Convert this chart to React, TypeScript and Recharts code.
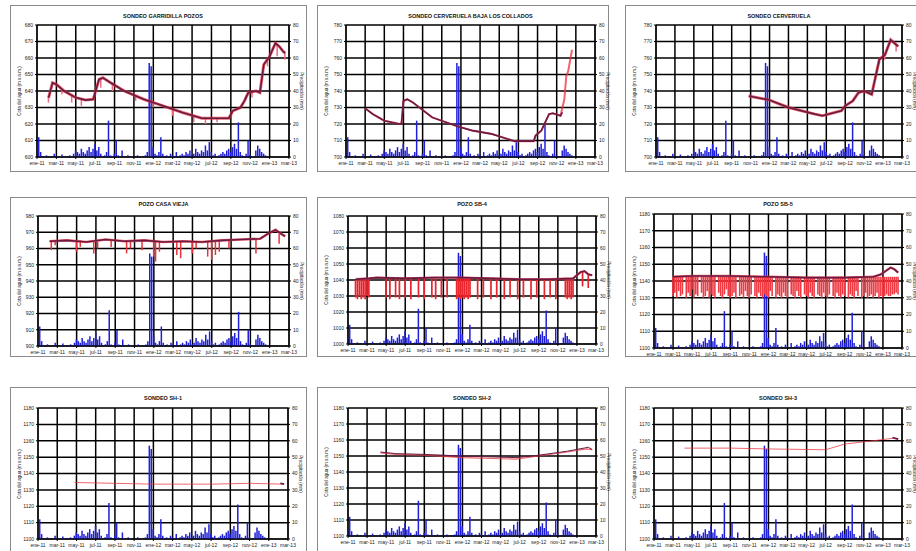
import React from 'react';
import { ComposedChart, Bar, Line, XAxis, YAxis, CartesianGrid } from 'recharts';

// etiquetas del eje X (cada 10 unidades)
const etiquetasX = ['ene-11', 'mar-11', 'may-11', 'jul-11', 'sep-11', 'nov-11', 'ene-12', 'mar-12', 'may-12', 'jul-12', 'sep-12', 'nov-12', 'ene-13', 'mar-13'];
const ticksX = etiquetasX.map((_, i) => i * 10);
const ticksLluvia = [0, 10, 20, 30, 40, 50, 60, 70, 80];

// precipitación (mm), misma estación para todos los gráficos
const lluvia = [
  4, 12, 3, 0.5, 0, 1, 0, 0.5, 0, 2,
  0.5, 0, 0, 1.5, 0, 0.5, 0, 1, 0, 2,
  4, 3, 2, 5, 3, 2, 4, 6, 3, 5,
  8, 4, 6, 2, 0, 1, 3, 22, 1, 0,
  2, 10, 1, 0, 4, 0.5, 0, 1, 0, 0,
  0.5, 0, 1, 0, 0, 0.5, 1, 3, 57, 55,
  6, 2, 1, 3, 12, 2, 0.5, 1, 0, 2,
  1, 0.5, 3, 0, 1, 2, 1, 3, 2, 4,
  1, 2, 5, 3, 2, 4, 3, 7, 4, 9,
  3, 1, 2, 0.5, 1, 2, 3, 2, 4, 5,
  3, 6, 8, 5, 21, 3, 1, 0.5, 2, 10,
  1, 0, 0.5, 4, 7, 5, 3, 2, 1, 0,
];

type Punto = [number, number];
type Tramo = [number, number, number];

// SONDEO GARRIDILLA POZOS
const garridillaNivel: Punto[] = [
  [6, 636], [8, 645], [10, 644], [14, 640], [20, 636], [25, 634.5], [29, 635], [30, 639], [32, 647], [34, 648],
  [38, 645], [45, 640], [55, 635], [65, 631], [75, 627], [85, 623.5], [99, 623.5], [101, 628], [105, 630], [107, 634],
  [109, 639], [113, 640], [115, 639], [117, 656], [120, 661], [123, 669], [125, 667], [127, 664], [128, 663],
];
const garridillaRango: Tramo[] = [
  [6, 633, 637], [13, 638, 641], [18, 633, 637], [23, 631, 635], [33, 642, 647], [39, 640, 645], [51, 634, 637],
  [60, 630, 634], [70, 625, 629], [81, 621, 625], [87, 620, 624], [93, 621, 623.5], [108, 635, 637], [111, 636, 640],
  [119, 655, 659], [124, 661, 668], [128, 659, 663],
];

// SONDEO CERVERUELA BAJA LOS COLLADOS
const cervBajaNivel: Punto[] = [
  [10, 729.5], [14, 726], [20, 722], [28, 720], [29, 720.5], [30, 734], [32, 735], [35, 733], [45, 724], [58, 718.7],
  [66, 716], [76, 714], [88, 709.6], [98, 709.6], [99, 713], [102, 716], [106, 726], [108, 726.5], [112, 725], [113, 727],
];
const cervBajaMedida: Punto[] = [
  [10, 729.5], [14, 726], [20, 722], [28, 720], [29, 720.5], [30, 734], [32, 735], [35, 733], [45, 724], [58, 718.7],
  [66, 716], [76, 714], [88, 709.6], [98, 709.6], [99, 713], [102, 716], [106, 726], [108, 726.5], [112, 725], [114, 735],
  [115, 749], [116, 752], [118, 765],
];

// SONDEO CERVERUELA
const cervNivel: Punto[] = [
  [49, 737], [60, 734.5], [70, 730], [84, 726], [88, 725], [98, 728], [100, 731], [104, 734], [107, 739], [110, 740],
  [114, 738], [118, 759], [121, 762], [124, 771], [128, 767],
];
const cervRango: Tramo[] = [[118, 756, 759], [121, 759, 762], [127, 764, 768]];

// POZO CASA VIEJA
const casaViejaNivel: Punto[] = [
  [6, 964.5], [15, 965], [25, 964], [35, 965.5], [45, 964.5], [55, 965], [65, 964], [75, 964.5], [85, 964], [95, 965],
  [105, 965.5], [115, 966], [119, 969], [123, 971.5], [126, 969], [128, 967.5],
];
const casaViejaRango: Tramo[] = [
  [7, 959, 965], [9, 962, 965], [20, 958, 965], [22, 961, 965], [29, 957, 964], [31, 960, 964], [38, 961, 965],
  [46, 957, 965], [48, 960, 965], [54, 959, 965], [60, 955, 964], [61, 952, 964], [63, 958, 964], [72, 956, 964],
  [74, 954, 964], [80, 957, 964], [82, 960, 964], [88, 955, 964], [90, 953, 964], [92, 956, 964], [94, 958, 965],
  [99, 960, 965], [113, 957, 966], [125, 963, 969],
];

// POZO SB-4
const sb4Nivel: Punto[] = [
  [4, 1040.5], [11, 1041], [15, 1041.5], [30, 1041], [45, 1041.5], [60, 1041.5], [75, 1041], [90, 1040.5], [105, 1040.5],
  [118, 1041], [122, 1045], [124, 1045.5], [126, 1043.5], [128, 1043],
];
const sb4Rango: Tramo[] = [
  [4, 1029, 1040], [5, 1028, 1040], [6, 1030, 1041], [7, 1028, 1041], [8, 1029, 1041], [9, 1028, 1041], [10, 1030, 1041],
  [11, 1029, 1041], [20, 1029, 1041], [22, 1028, 1041], [25, 1029, 1041], [27, 1028, 1041], [30, 1029, 1041],
  [33, 1028, 1041], [37, 1029, 1041], [40, 1028, 1041], [44, 1029, 1041], [46, 1028, 1041], [49, 1029, 1041],
  [52, 1029, 1041], [57, 1028, 1041], [58, 1029, 1041], [59, 1028, 1041], [60, 1029, 1041], [61, 1028, 1041],
  [62, 1029, 1041], [63, 1028, 1041], [64, 1029, 1041], [68, 1028, 1041], [71, 1029, 1041], [75, 1028, 1041],
  [78, 1029, 1041], [82, 1028, 1041], [85, 1029, 1040], [89, 1028, 1040], [92, 1029, 1040], [96, 1028, 1040],
  [99, 1029, 1040], [103, 1028, 1040], [106, 1029, 1040], [109, 1028, 1040], [114, 1029, 1041], [115, 1028, 1041],
  [116, 1029, 1041], [117, 1028, 1041], [118, 1029, 1041], [123, 1036, 1045], [126, 1035, 1043],
];

// POZO SB-5
const sb5Nivel: Punto[] = [
  [10, 1142.5], [20, 1143], [40, 1143], [60, 1142.5], [80, 1142], [100, 1142], [115, 1142.5], [119, 1144], [124, 1148],
  [126, 1147], [128, 1145],
];
const sb5Inicio = 10;
const sb5Tope = 1142.5;
const sb5Bajo: (number | null)[] = [
  1131, 1133, 1130, 1134, 1131, 1132, null, 1130, 1133, 1131,
  1135, 1130, 1132, 1131, null, 1133, 1130, 1131, 1134, 1130,
  1132, 1131, 1130, null, 1133, 1131, 1130, 1132, 1135, 1131,
  1130, 1131, 1133, 1130, null, 1131, 1132, 1130, 1134, 1131,
  1130, 1132, null, 1131, 1130, 1133, 1131, 1130, 1132, 1131,
  1130, 1134, 1131, null, 1130, 1132, 1131, 1130, 1133, 1131,
  1130, null, 1132, 1131, 1130, 1134, 1131, 1130, null, 1132,
  1131, 1130, 1133, 1131, 1130, null, 1132, 1131, 1130, 1133,
  1131, 1130, 1132, null, 1131, 1130, 1133, 1131, 1130, 1132,
  1131, null, 1130, 1132, 1131, 1130, 1134, 1131, null, 1130,
  1131, 1133, 1130, 1131, 1132, 1130, 1131, 1133, 1130, 1131,
  1130, 1131, 1132, 1131, 1131, 1132, 1132, 1133, 1132,
];
const sb5Rango: Tramo[] = sb5Bajo.flatMap((b, k) => (b === null ? [] : [[sb5Inicio + k, b, sb5Tope] as Tramo]));

// SONDEOS SH
const sh1Medida: Punto[] = [[19, 1134.5], [40, 1134], [60, 1133.5], [90, 1133.5], [110, 1134], [128, 1133.5]];
const sh1Nivel: Punto[] = [[126, 1134], [128, 1133.5]];
const sh2Medida: Punto[] = [[17, 1152], [25, 1151], [40, 1150.5], [60, 1149], [88, 1148], [100, 1150], [115, 1152.5], [125, 1154.5], [128, 1154]];
const sh2Nivel: Punto[] = [[17, 1152.5], [25, 1151.5], [40, 1151], [60, 1150], [88, 1149], [100, 1150.5], [115, 1153], [124, 1155], [126, 1155.5], [128, 1154]];
const sh3Medida: Punto[] = [[16, 1155.5], [40, 1155.5], [60, 1155], [90, 1154.5], [100, 1158], [115, 1160], [125, 1161.5], [128, 1161]];
const sh3Nivel: Punto[] = [[125, 1162], [128, 1161]];

interface Panel {
  titulo: string;
  x: number;
  y: number;
  w: number;
  h: number;
  izq: number;
  der: number;
  top: number;
  plot: number;
  tituloY: number;
  yMin: number;
  nivel: Punto[];
  medida: Punto[];
  rango: Tramo[];
  anchoNivel: number;
  anchoMedida: number;
  anchoRango: number;
  colorRango: string;
}

const paneles: Panel[] = [
  { titulo: 'SONDEO GARRIDILLA POZOS', x: 10, y: 5, w: 297, h: 167, izq: 26, der: 278, top: 19, plot: 132, tituloY: 7, yMin: 600, nivel: garridillaNivel, medida: garridillaNivel, rango: garridillaRango, anchoNivel: 1.6, anchoMedida: 3, anchoRango: 1.5, colorRango: '#ee6a80' },
  { titulo: 'SONDEO CERVERUELA BAJA LOS COLLADOS', x: 317, y: 5, w: 292, h: 167, izq: 28, der: 277, top: 19, plot: 132, tituloY: 7, yMin: 700, nivel: cervBajaNivel, medida: cervBajaMedida, rango: [], anchoNivel: 1.6, anchoMedida: 2, anchoRango: 1.5, colorRango: '#ee6a80' },
  { titulo: 'SONDEO CERVERUELA', x: 625, y: 5, w: 293, h: 167, izq: 30, der: 276, top: 19, plot: 132, tituloY: 7, yMin: 700, nivel: cervNivel, medida: cervNivel, rango: cervRango, anchoNivel: 1.6, anchoMedida: 3, anchoRango: 1.5, colorRango: '#ee6a80' },
  { titulo: 'POZO CASA VIEJA', x: 10, y: 197, w: 297, h: 160, izq: 27, der: 278, top: 18, plot: 130, tituloY: 3, yMin: 900, nivel: casaViejaNivel, medida: casaViejaNivel, rango: casaViejaRango, anchoNivel: 1.6, anchoMedida: 2.6, anchoRango: 1.5, colorRango: '#e8333b' },
  { titulo: 'POZO SB-4', x: 317, y: 197, w: 292, h: 160, izq: 30, der: 278, top: 18, plot: 128, tituloY: 3, yMin: 1000, nivel: sb4Nivel, medida: sb4Nivel, rango: sb4Rango, anchoNivel: 1.6, anchoMedida: 2.4, anchoRango: 2.6, colorRango: '#e8242c' },
  { titulo: 'POZO SB-5', x: 625, y: 197, w: 293, h: 160, izq: 28, der: 276, top: 16, plot: 134, tituloY: 3, yMin: 1100, nivel: sb5Nivel, medida: sb5Nivel, rango: sb5Rango, anchoNivel: 1.6, anchoMedida: 2.4, anchoRango: 1.6, colorRango: '#ef3a44' },
  { titulo: 'SONDEO SH-1', x: 10, y: 387, w: 297, h: 172, izq: 27, der: 277, top: 20, plot: 131, tituloY: 7, yMin: 1100, nivel: sh1Nivel, medida: sh1Medida, rango: [], anchoNivel: 1.6, anchoMedida: 1, anchoRango: 1.5, colorRango: '#e8333b' },
  { titulo: 'SONDEO SH-2', x: 317, y: 387, w: 292, h: 172, izq: 30, der: 278, top: 20, plot: 128, tituloY: 7, yMin: 1100, nivel: sh2Nivel, medida: sh2Medida, rango: [], anchoNivel: 1, anchoMedida: 1.2, anchoRango: 1.5, colorRango: '#e8333b' },
  { titulo: 'SONDEO SH-3', x: 625, y: 387, w: 293, h: 172, izq: 28, der: 276, top: 20, plot: 131, tituloY: 7, yMin: 1100, nivel: sh3Nivel, medida: sh3Medida, rango: [], anchoNivel: 1.6, anchoMedida: 1, anchoRango: 1.5, colorRango: '#e8333b' },
];

const fuente = '"Liberation Sans", Arial, sans-serif';
const tickStyle = { fontSize: 5, fill: '#222', fontFamily: fuente };
const anchoEjeIzq = 22;
const anchoEjeDer = 10;

function filas(p: Panel) {
  const nv = new Map(p.nivel);
  const md = new Map(p.medida);
  const rg = new Map(p.rango.map(([i, a, b]) => [i, [a, b]] as [number, number[]]));
  const out = [];
  for (let i = 0; i <= 130; i++) {
    out.push({
      x: i,
      lluvia: i < lluvia.length ? lluvia[i] : null,
      nivel: nv.get(i) ?? null,
      medida: md.get(i) ?? null,
      rango: rg.get(i) ?? null,
    });
  }
  return out;
}

function Grafico({ p }: { p: Panel }) {
  const data = filas(p);
  const ticksY = ticksLluvia.map((t) => p.yMin + t);
  const chartW = p.w - 2;
  const chartH = p.top + p.plot + 12 + 4;
  const margenDer = chartW - p.der - anchoEjeDer;
  const tituloDerX = p.der + 12;
  return (
    <div style={{ position: 'absolute', left: p.x, top: p.y, width: p.w, height: p.h, border: '1px solid #8a8a8a', boxSizing: 'border-box', background: '#fff' }}>
      <div style={{ position: 'absolute', left: p.izq, width: p.der - p.izq, top: p.tituloY, textAlign: 'center', fontSize: 5.5, fontWeight: 'bold', fontFamily: fuente, color: '#111', whiteSpace: 'nowrap' }}>
        {p.titulo}
      </div>
      <div style={{ position: 'absolute', left: 8, top: p.top + p.plot / 2, transform: 'translate(-50%, -50%) rotate(-90deg)', fontSize: 4.5, fontFamily: fuente, color: '#222', whiteSpace: 'nowrap' }}>
        Cota del agua (m s.n.m.)
      </div>
      <div style={{ position: 'absolute', left: tituloDerX, top: p.top + p.plot / 2, transform: 'translate(-50%, -50%) rotate(90deg)', fontSize: 4.5, lineHeight: 1, fontFamily: fuente, color: '#222', whiteSpace: 'nowrap' }}>
        Precipitación (mm)
      </div>
      <div style={{ position: 'absolute', left: 0, top: 0 }}>
        <ComposedChart width={chartW} height={chartH} data={data} margin={{ top: p.top, right: margenDer, left: p.izq - anchoEjeIzq, bottom: 4 }}>
          <CartesianGrid xAxisId="t" yAxisId="n" stroke="#000" strokeWidth={1.5} />
          <XAxis
            xAxisId="t"
            dataKey="x"
            type="number"
            domain={[0, 130]}
            ticks={ticksX}
            tickFormatter={(v: number) => etiquetasX[Math.round(v / 10)]}
            interval={0}
            height={12}
            tick={tickStyle}
            tickSize={2}
            stroke="#000"
            allowDataOverflow
          />
          <XAxis xAxisId="r" dataKey="x" type="number" domain={[0, 130]} orientation="top" height={0} hide allowDataOverflow />
          <YAxis
            yAxisId="n"
            type="number"
            domain={[p.yMin, p.yMin + 80]}
            ticks={ticksY}
            interval={0}
            width={anchoEjeIzq}
            tick={tickStyle}
            tickSize={2}
            stroke="#000"
            allowDataOverflow
          />
          <YAxis
            yAxisId="p"
            orientation="right"
            type="number"
            domain={[0, 80]}
            ticks={ticksLluvia}
            interval={0}
            width={anchoEjeDer}
            tick={tickStyle}
            tickSize={2}
            stroke="#000"
            allowDataOverflow
          />
          <Bar xAxisId="t" yAxisId="p" dataKey="lluvia" fill="#1f1fd8" barSize={1.5} isAnimationActive={false} />
          <Bar xAxisId="r" yAxisId="n" dataKey="rango" fill={p.colorRango} barSize={p.anchoRango} isAnimationActive={false} />
          <Line xAxisId="t" yAxisId="n" type="linear" dataKey="medida" stroke="#e8333b" strokeOpacity={0.75} strokeWidth={p.anchoMedida} dot={false} connectNulls isAnimationActive={false} />
          <Line xAxisId="t" yAxisId="n" type="linear" dataKey="nivel" stroke="#6a1b45" strokeWidth={p.anchoNivel} dot={false} connectNulls isAnimationActive={false} />
        </ComposedChart>
      </div>
    </div>
  );
}

export default function App() {
  return (
    <div style={{ position: 'absolute', left: 0, top: 0, width: 916, height: 551, overflow: 'hidden', background: '#fff' }}>
      {paneles.map((p) => (
        <Grafico key={p.titulo} p={p} />
      ))}
    </div>
  );
}
